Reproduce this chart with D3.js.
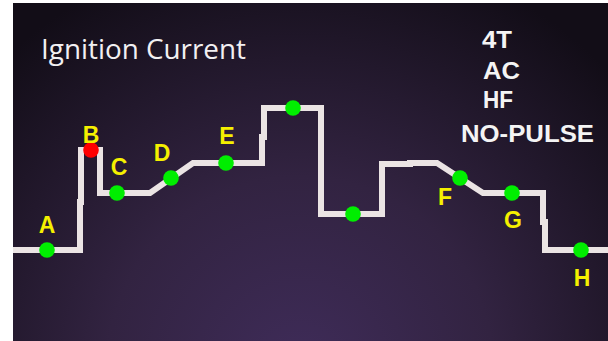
<!DOCTYPE html>
<html>
<head>
<meta charset="utf-8">
<script src="https://cdn.jsdelivr.net/npm/d3@7"></script>
<style>
  html, body { margin: 0; padding: 0; background: #fff; }
  svg { display: block; }
</style>
</head>
<body>
<svg id="chart" width="608" height="341"></svg>
<script>
// ─── data ───
// current trace vertices: time (arbitrary units) and current level
const traceTime    = [0, 67, 67, 68, 68, 87, 87, 137, 180, 249, 249, 251, 251, 308, 308, 369, 369, 397, 397, 424, 470, 530, 530, 532, 532, 595];
const traceCurrent = [25, 25, 49, 49, 75, 75, 53.5, 53.5, 68.5, 68.5, 81.5, 81.5, 96, 96, 43, 43, 68, 68, 68.5, 68.5, 53.5, 53.5, 39, 39, 25, 25];

// marked phases
const pointLabels  = ['A', 'B', 'C', 'D', 'E', '', '', 'F', 'G', 'H'];
const pointTime    = [34, 78, 104, 158, 213, 280, 340, 447, 499, 568];
const pointCurrent = [25, 75, 53.5, 61, 68.5, 96, 43, 61, 53.5, 25];
const pointKind    = ['ok', 'peak', 'ok', 'ok', 'ok', 'ok', 'ok', 'ok', 'ok', 'ok'];

const title = 'Ignition Current';
const modeLines = ['4T', 'AC', 'HF', 'NO-PULSE'];

// ─── layout ───
const W = 608, H = 341;
const svg = d3.select('#chart');

const x = d3.scaleLinear().domain([0, 595]).range([13, 608]);
const y = d3.scaleLinear().domain([0, 100]).range([300, 100]);

// background panel
const defs = svg.append('defs');
const grad = defs.append('radialGradient')
  .attr('id', 'bg')
  .attr('gradientUnits', 'userSpaceOnUse')
  .attr('cx', 300).attr('cy', 370).attr('r', 430)
  .attr('fx', 300).attr('fy', 370);
grad.append('stop').attr('offset', 0).attr('stop-color', '#3f2c59');
grad.append('stop').attr('offset', 0.45).attr('stop-color', '#322341');
grad.append('stop').attr('offset', 1).attr('stop-color', '#120d17');

svg.append('rect')
  .attr('x', 13).attr('y', 3)
  .attr('width', W - 13).attr('height', H - 3)
  .attr('fill', 'url(#bg)');

// title
svg.append('text')
  .attr('x', 41).attr('y', 59)
  .attr('textLength', 205)
  .attr('lengthAdjust', 'spacingAndGlyphs')
  .style('font-family', '"Open Sans", sans-serif')
  .style('font-size', '27px')
  .attr('fill', '#f2f0f2')
  .text(title);

// mode text (wide bold)
const modeX = [482, 483, 483, 461];
const modeY = [48, 79, 108, 142];
const modeW = [30, 37, 30, 133];
svg.append('g').selectAll('text')
  .data(modeLines)
  .enter()
  .append('text')
  .attr('x', (d, i) => modeX[i])
  .attr('y', (d, i) => modeY[i])
  .attr('textLength', (d, i) => modeW[i])
  .attr('lengthAdjust', 'spacingAndGlyphs')
  .style('font-family', '"Liberation Sans", Arial, sans-serif')
  .style('font-weight', 'bold')
  .style('font-size', '23px')
  .attr('fill', '#f4f4f4')
  .text(d => d);

// trace
const trace = traceTime.map((t, i) => [t, traceCurrent[i]]);
const line = d3.line().x(d => x(d[0])).y(d => y(d[1]));
svg.append('path')
  .datum(trace)
  .attr('d', line)
  .attr('fill', 'none')
  .attr('stroke', '#ebe4e4')
  .attr('stroke-width', 6)
  .attr('stroke-linejoin', 'miter');

// dots
svg.append('g').selectAll('circle')
  .data(pointTime)
  .enter()
  .append('circle')
  .attr('cx', d => x(d))
  .attr('cy', (d, i) => y(pointCurrent[i]))
  .attr('r', 7.8)
  .attr('fill', (d, i) => pointKind[i] === 'peak' ? '#ff0000' : '#00ee00');

// letter labels, offset from each dot
const labelDx = [0, 0, 2, -9, 1, 0, 0, -15, 1, 1];
const labelDy = [-17, -7, -18, -17, -19, 0, 0, 27, 35, 36];
svg.append('g').selectAll('text')
  .data(pointLabels)
  .enter()
  .filter(d => d !== '')
  .append('text')
  .attr('x', d => x(pointTime[pointLabels.indexOf(d)]) + labelDx[pointLabels.indexOf(d)])
  .attr('y', d => y(pointCurrent[pointLabels.indexOf(d)]) + labelDy[pointLabels.indexOf(d)])
  .attr('text-anchor', 'middle')
  .style('font-family', '"Liberation Sans", Arial, sans-serif')
  .style('font-weight', 'bold')
  .style('font-size', '23px')
  .attr('fill', '#f5f000')
  .text(d => d);
</script>
</body>
</html>
